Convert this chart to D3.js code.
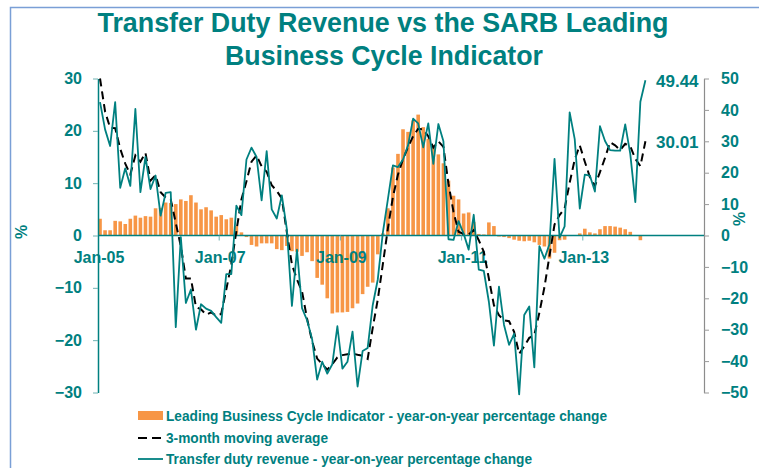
<!DOCTYPE html>
<html>
<head>
<meta charset="utf-8">
<script src="https://cdn.jsdelivr.net/npm/d3@7"></script>
<style>
  body { margin: 0; background: #fff; }
  svg { display: block; font-family: "Liberation Sans", Arial, sans-serif; }
</style>
</head>
<body>
<div class="canvas"></div>
<script>
// month index 0 = Jan-05
const tickLabels = ['Jan-05', 'Jan-07', 'Jan-09', 'Jan-11', 'Jan-13'];
const tickIndex = [0, 24, 48, 72, 96];
const leftTicks = [-30, -20, -10, 0, 10, 20, 30];
const rightTicks = [-50, -40, -30, -20, -10, 0, 10, 20, 30, 40, 50];

// Leading Business Cycle Indicator yoy % (left axis), Jan-05 .. Dec-13
const lbci = [3.2, 1.0, 1.0, 2.8, 2.7, 2.2, 3.2, 3.8, 3.4, 3.7, 3.6, 5.2,
  5.3, 6.3, 6.2, 6.0, 6.9, 6.6, 7.7, 6.3, 5.0, 5.4, 4.8, 3.6,
  3.9, 3.1, 3.4, 1.8, 0.6, -0.3, -1.8, -2.1, -1.5, -1.5, -1.5, -2.6,
  -2.8, -2.0, -3.0, -3.1, -3.9, -3.2, -4.9, -8.1, -9.4, -12.0, -14.9, -14.7,
  -14.7, -14.6, -13.9, -13.0, -11.2, -9.8, -9.0, -3.6, 0.4, 5.2, 13.0, 15.6,
  20.3, 19.8, 22.0, 23.1, 20.7, 18.5, 17.3, 15.5, 13.8, 10.5, 7.6, 6.9,
  4.2, 4.4, 2.6, 0.3, 0.2, 2.5, 1.8, -0.2, -0.3, -0.5, -0.8, -1.0,
  -1.1, -1.0, -1.3, -1.8, -2.1, -4.4, -3.3, -0.9, -0.8, -0.1, 0.0, 0.4,
  1.3, 0.6, 0.4, 1.2, 1.8, 1.8, 1.7, 1.5, 1.2, 0.7, -0.1, -0.9];

// Transfer duty revenue yoy % (right axis), Jan-05 .. Jan-14
const duty = [42.5, 33.8, 28.5, 42.5, 15.2, 21.4, 15.8, 40.3, 13.8, 25.0, 14.8, 19.1,
  6.3, 13.6, 13.8, -29.2, -0.5, -21.5, -17.2, -30.0, -21.9, -23.3, -24.0, -26.0,
  -27.8, -12.3, -12.3, 9.5, 6.5, 24.2, 28.0, 25.0, 11.2, 26.9, 8.3, 5.4,
  12.8, 2.0, -22.4, -4.5, -23.1, -27.0, -33.0, -45.9, -40.2, -44.0, -41.0, -28.9,
  -42.4, -40.2, -30.6, -48.1, -36.8, -35.8, -22.2, -14.0, 0.8, 11.5, 22.3, 21.8,
  24.2, 28.7, 37.2, 35.7, 28.1, 35.7, 22.8, 35.5, 30.0, -1.2, -1.4, 4.6,
  0.6, -4.5, 6.6, -10.9, -11.3, -21.1, -35.1, -16.3, -28.5, -34.8, -31.3, -50.6,
  -25.3, -22.6, -42.0, -3.4, -7.4, -2.8, 24.4, -0.7, 2.9, 39.2, 30.7, 8.6,
  19.4, 19.1, 14.0, 34.8, 30.1, 27.2, 27.0, 27.0, 35.4, 26.0, 10.6, 42.6,
  49.44];

// 3-month moving average (right axis)
const avg3 = [50.0, 39.5, 34.3, 34.2, 27.6, 22.9, 19.4, 25.5, 23.5, 26.3, 17.5, 19.2,
  13.8, 12.1, 11.5, 4.0, -3.4, -13.7, -13.7, -22.8, -23.5, -25.2, -24.5, -25.5,
  -25.0, -17.2, -9.2, 1.4, 11.5, 17.3, 23.5, 25.5, 22.0, 20.3, 16.0, 14.2,
  11.8, 1.0, -9.2, -14.0, -17.8, -26.5, -33.7, -39.2, -41.0, -42.7, -41.0, -38.8,
  -38.1, -37.8, -37.6, -38.0, -38.3, -39.3, -29.4, -20.4, -9.2, 2.2, 12.3, 19.4,
  24.3, 28.2, 31.6, 34.0, 33.8, 31.6, 28.0, 30.0, 28.2, 16.5, 7.5, 1.2,
  0.5, 0.3, 1.7, -1.5, -5.2, -13.7, -22.2, -25.4, -27.0, -27.3, -30.7, -37.7,
  -35.3, -32.6, -31.7, -24.6, -16.5, -6.5, 3.5, 6.5, 8.6, 16.8, 24.2, 28.7,
  23.5, 18.6, 15.8, 20.2, 24.7, 29.7, 28.7, 27.2, 29.2, 28.4, 24.4, 22.1,
  30.01];

const teal = '#008080';
const orange = '#F79646';

const svg = d3.select('.canvas')
  .append('svg')
  .attr('width', 759)
  .attr('height', 468);

// frame
svg.append('rect')
  .attr('x', 10.5).attr('y', 7.5)
  .attr('width', 760).attr('height', 470)
  .attr('fill', 'none')
  .attr('stroke', '#7a9fd6')
  .attr('stroke-width', 1.5);

// title
const title = svg.append('g')
  .attr('fill', teal)
  .attr('font-weight', 'bold')
  .attr('font-size', 28)
  .attr('text-anchor', 'middle');
title.append('text').attr('x', 383).attr('y', 32)
  .attr('textLength', 571).attr('lengthAdjust', 'spacingAndGlyphs')
  .text('Transfer Duty Revenue vs the SARB Leading');
title.append('text').attr('x', 384).attr('y', 65)
  .attr('textLength', 318).attr('lengthAdjust', 'spacingAndGlyphs')
  .text('Business Cycle Indicator');

const x = d3.scaleLinear().domain([0, 120]).range([98, 704]);
const pos = i => x(i + 0.4);
const yL = d3.scaleLinear().domain([-30, 30]).range([392.5, 78.5]);
const yR = d3.scaleLinear().domain([-50, 50]).range([392.5, 78.5]);

// bars
svg.append('g')
  .selectAll('rect')
  .data(lbci)
  .enter()
  .append('rect')
  .attr('x', (d, i) => pos(i) - 1.8)
  .attr('width', 3.6)
  .attr('y', d => Math.min(yL(d), yL(0)))
  .attr('height', d => Math.abs(yL(d) - yL(0)))
  .attr('fill', orange);

// left axis
const leftAxis = svg.append('g')
  .attr('transform', 'translate(98,0)')
  .call(d3.axisLeft(yL).tickValues(leftTicks).tickSize(5).tickSizeOuter(0).tickPadding(11).tickFormat(d3.format('d')));
leftAxis.select('.domain').attr('stroke', teal).attr('stroke-width', 1.5);
leftAxis.selectAll('.tick line').attr('stroke', '#6fb2b2');
leftAxis.selectAll('.tick text')
  .attr('fill', teal).attr('font-size', 16).attr('font-weight', 'bold')
  .attr('font-family', '"Liberation Sans", Arial, sans-serif');

// right axis
const rightAxis = svg.append('g')
  .attr('transform', 'translate(704,0)')
  .call(d3.axisRight(yR).tickValues(rightTicks).tickSize(5).tickSizeOuter(0).tickPadding(12).tickFormat(d3.format('d')));
rightAxis.select('.domain').attr('stroke', '#8c8c8c').attr('stroke-width', 1.2);
rightAxis.selectAll('.tick line').attr('stroke', '#9a9a9a');
rightAxis.selectAll('.tick text')
  .attr('fill', teal).attr('font-size', 16).attr('font-weight', 'bold')
  .attr('font-family', '"Liberation Sans", Arial, sans-serif');

// x axis at zero
svg.append('line')
  .attr('x1', 98).attr('x2', 704)
  .attr('y1', yL(0)).attr('y2', yL(0))
  .attr('stroke', teal).attr('stroke-width', 1.5);

const xt = svg.append('g');
xt.selectAll('line')
  .data(tickIndex.slice(1))
  .enter()
  .append('line')
  .attr('x1', d => x(d)).attr('x2', d => x(d))
  .attr('y1', yL(0)).attr('y2', yL(0) + 5)
  .attr('stroke', '#6fb2b2');
xt.selectAll('text')
  .data(tickLabels)
  .enter()
  .append('text')
  .attr('x', (d, i) => x(tickIndex[i]) + 1)
  .attr('y', 263)
  .attr('text-anchor', 'middle')
  .attr('fill', teal).attr('font-size', 16).attr('font-weight', 'bold')
  .text(d => d);

// % labels
svg.append('text')
  .attr('transform', 'translate(27,232) rotate(-90)')
  .attr('text-anchor', 'middle')
  .attr('fill', teal).attr('font-size', 16).attr('font-weight', 'bold')
  .text('%');
svg.append('text')
  .attr('transform', 'translate(745,219) rotate(-90)')
  .attr('text-anchor', 'middle')
  .attr('fill', teal).attr('font-size', 16).attr('font-weight', 'bold')
  .text('%');

// lines
const line = d3.line()
  .x((d, i) => pos(i))
  .y(d => yR(d));

svg.append('path')
  .datum(avg3)
  .attr('d', line)
  .attr('fill', 'none')
  .attr('stroke', '#000')
  .attr('stroke-width', 2)
  .attr('stroke-dasharray', '8,5');

svg.append('path')
  .datum(duty)
  .attr('d', line)
  .attr('fill', 'none')
  .attr('stroke', teal)
  .attr('stroke-width', 1.8)
  .attr('stroke-linejoin', 'round');

// end value labels
const lastDuty = duty[duty.length - 1];
const lastAvg = avg3[avg3.length - 1];
svg.append('g')
  .selectAll('text')
  .data([lastDuty, lastAvg])
  .enter()
  .append('text')
  .attr('x', 656)
  .attr('y', d => yR(d) + 7)
  .attr('fill', teal).attr('font-size', 17).attr('font-weight', 'bold')
  .text(d => d.toFixed(2));

// legend
const legend = svg.append('g')
  .attr('fill', teal).attr('font-size', 14).attr('font-weight', 'bold');
legend.append('rect')
  .attr('x', 138).attr('y', 411).attr('width', 25).attr('height', 9)
  .attr('fill', orange);
legend.append('line')
  .attr('x1', 138).attr('x2', 163).attr('y1', 438).attr('y2', 438)
  .attr('stroke', '#000').attr('stroke-width', 2).attr('stroke-dasharray', '9,5');
legend.append('line')
  .attr('x1', 138).attr('x2', 163).attr('y1', 459).attr('y2', 459)
  .attr('stroke', teal).attr('stroke-width', 1.8);
const legendText = [
  ['Leading Business Cycle Indicator - year-on-year percentage change', 421, 441],
  ['3-month moving average', 443, 162],
  ['Transfer duty revenue - year-on-year percentage change', 464, 366]
];
legend.selectAll('text')
  .data(legendText)
  .enter()
  .append('text')
  .attr('x', 166)
  .attr('y', d => d[1])
  .attr('textLength', d => d[2])
  .attr('lengthAdjust', 'spacingAndGlyphs')
  .text(d => d[0]);
</script>
</body>
</html>
